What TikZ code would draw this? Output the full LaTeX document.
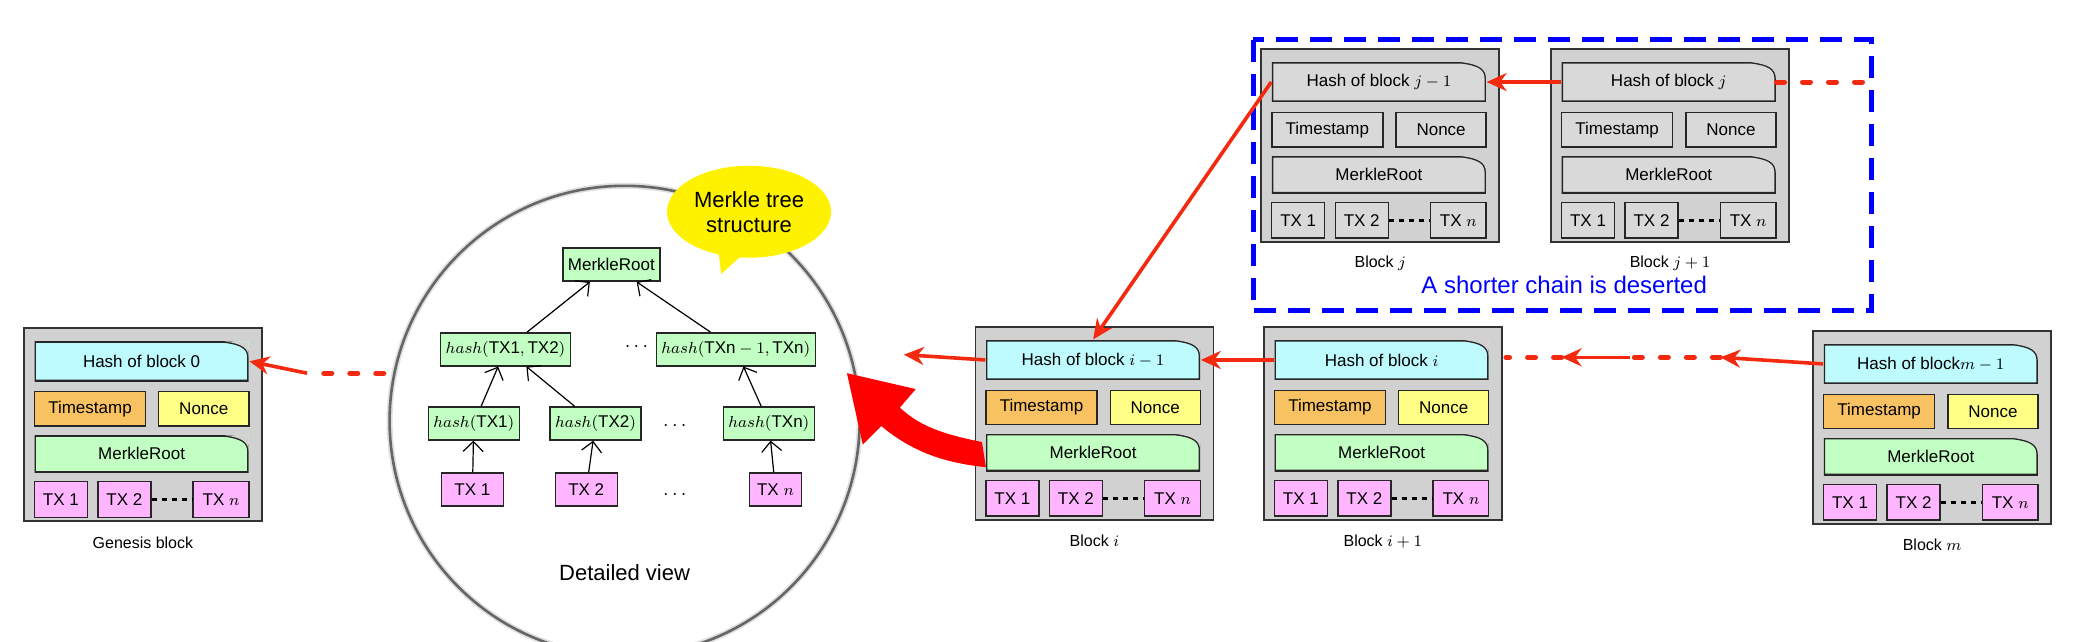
\documentclass[tikz,border=0pt]{standalone}
\usepackage{fontspec}
\setmainfont{Liberation Sans}
\usetikzlibrary{shapes.callouts,arrows.meta}

\definecolor{Ahash}{HTML}{BDFBFF}
\definecolor{Ats}{HTML}{F8C262}
\definecolor{Anonce}{HTML}{FFFF86}
\definecolor{Amr}{HTML}{C2FFC2}
\definecolor{Atx}{HTML}{FFB5FF}
\definecolor{Bhash}{HTML}{D9D9D9}
\definecolor{Bts}{HTML}{D9D9D9}
\definecolor{Bnonce}{HTML}{D9D9D9}
\definecolor{Bmr}{HTML}{D9D9D9}
\definecolor{Btx}{HTML}{D9D9D9}
\definecolor{chainred}{HTML}{F42A10}

% one block of the chain: name, x, y, hash text, colour set, label
\newcommand\chainblock[6]{
	\begin{scope}[shift={(#2,#3)}]
		\node[outer] (#1) at (90,73) {};
		\node[note,fill=#5hash] (#1-hash) at (89,25) {#4};
		\node[part,fill=#5ts,minimum width=55.5pt] (#1-ts) at (50,61) {Timestamp};
		\node[part,fill=#5nonce,minimum width=45pt] (#1-nonce) at (136,61) {Nonce};
		\node[note,fill=#5mr,minimum height=18.5pt] (#1-mr) at (89,95) {MerkleRoot};
		\node[part,fill=#5tx,minimum width=26.5pt,minimum height=17.8pt] (#1-tx1) at (28,129.5) {TX 1};
		\node[part,fill=#5tx,minimum width=26.5pt,minimum height=17.8pt] (#1-tx2) at (76,129.5) {TX 2};
		\node[part,fill=#5tx,minimum width=27.8pt,minimum height=17.8pt] (#1-txn) at (149,129.5) {TX $n$};
		\draw[line width=1.5pt,dash pattern=on 2.5pt off 2.5pt] (#1-tx2) -- (#1-txn);
		\node[blabel] (#1-label) at (90,162) {#6};
	\end{scope}
}

\begin{document}
\begin{tikzpicture}[x=0.6616pt,y=-0.6616pt,
		outer/.style={draw=black!80,fill=black!18,line width=0.9pt,minimum width=119pt,minimum height=96.5pt,inner sep=0pt},
		part/.style={draw=black!85,line width=0.7pt,minimum height=17.2pt,inner sep=0pt,font=\fontsize{8.5}{10}\selectfont},
		note/.style={part,draw=none,minimum width=107pt,minimum height=19.8pt,
			path picture={
				\draw[black!85,line width=1.4pt] (path picture bounding box.south east) -- (path picture bounding box.south west)
				-- (path picture bounding box.north west) -- ([xshift=-12pt]path picture bounding box.north east)
				.. controls ([xshift=-4pt,yshift=-1pt]path picture bounding box.north east) and ([yshift=-3pt]path picture bounding box.north east) .. ([yshift=-8pt]path picture bounding box.north east)
				-- (path picture bounding box.south east);
				\fill[black!18] ([xshift=-12pt]path picture bounding box.north east) .. controls ([xshift=-4pt,yshift=-1pt]path picture bounding box.north east) and ([yshift=-3pt]path picture bounding box.north east) .. ([yshift=-8pt]path picture bounding box.north east) -- (path picture bounding box.north east) -- cycle;
			}},
		tree/.style={draw=black!85,fill=Amr,line width=0.7pt,minimum height=16.5pt,inner sep=2.5pt,font=\fontsize{8.5}{10}\selectfont},
		blabel/.style={font=\fontsize{8}{10}\selectfont},
		link/.style={chainred,line width=1.8pt,-{Stealth[length=10pt,width=9pt]}},
		gap/.style={chainred,line width=2.5pt,dash pattern=on 4pt off 9pt,line cap=round},
		up/.style={-{Straight Barb[length=5pt]},line width=0.6pt},
	]
	\useasboundingbox (0,0) rectangle (1568,485);

	% the blocks of the main chain
	\chainblock{gen}{18}{248}{Hash of block 0}{A}{Genesis block}
	\chainblock{bi}{737}{247}{Hash of block $i-1$}{A}{Block $i$}
	\chainblock{bii}{955}{247}{Hash of block $i$}{A}{Block $i+1$}
	\chainblock{bm}{1370}{250}{Hash of block$m-1$}{A}{Block $m$}

	% the deserted branch
	\chainblock{bj}{953}{37}{Hash of block $j-1$}{B}{Block $j$}
	\chainblock{bjj}{1172}{37}{Hash of block $j$}{B}{Block $j+1$}
	\draw[blue,line width=2.5pt,dash pattern=on 11pt off 6pt] (947,30) rectangle (1414,235);
	\node[blue,font=\fontsize{12}{14}\selectfont] (desert) at (1182,215) {A shorter chain is deserted};

	% links between blocks
	\coordinate (gen-end) at (290,282);
	\coordinate (gen-mid) at (232,282);
	\draw[gap] (gen-end) -- (gen-mid);
	\draw[link] (gen-mid) -- (gen-hash.east);
	\coordinate (bi-tip) at (683,268);
	\draw[link] (bi-hash.west) -- (bi-tip);
	\draw[link] (bii-hash.west) -- (bi-hash.east);
	\coordinate (m-a) at (1300,270);
	\coordinate (m-b) at (1232,270);
	\coordinate (m-c) at (1180,270);
	\coordinate (m-d) at (1138,270);
	\draw[link] (bm-hash.west) -- (m-a);
	\draw[gap] (m-a) -- (m-b);
	\draw[link] (m-b) -- (m-c);
	\draw[gap] (m-c) -- (m-d);
	\draw[link] (bjj-hash.west) -- (bj-hash.east);
	\coordinate (j-end) at (1410,62);
	\draw[gap] (bjj-hash.east) -- (j-end);
	\draw[link] (bj-hash.west) -- (bi-hash.north);

	% detailed view of the merkle tree
	\node[circle,draw=black!12,line width=3pt,minimum size=235pt,inner sep=0pt] (view-shadow) at (472,318) {};
	\node[circle,draw=black!60,line width=1.3pt,minimum size=235pt,inner sep=0pt] (view) at (472,318) {};
	\node[font=\fontsize{11}{13}\selectfont] (view-label) at (472,433) {Detailed view};
	\node[tree] (root) at (462,200) {MerkleRoot};
	\node[tree] (h12) at (382,264) {$hash(\mathrm{TX1},\mathrm{TX2})$};
	\node[tree] (hn1) at (556,264) {$hash(\mathrm{TXn}-1,\mathrm{TXn})$};
	\node[tree] (h1) at (358,320) {$hash(\mathrm{TX1})$};
	\node[tree] (h2) at (450,320) {$hash(\mathrm{TX2})$};
	\node[tree] (hn) at (581,320) {$hash(\mathrm{TXn})$};
	\node[tree,fill=Atx,minimum width=31pt] (t1) at (357,370) {TX 1};
	\node[tree,fill=Atx,minimum width=31pt] (t2) at (443,370) {TX 2};
	\node[tree,fill=Atx,minimum width=26pt] (tn) at (586,370) {TX $n$};
	\node (dots1) at (481,262) {$\cdots$};
	\node (dots2) at (510,322) {$\cdots$};
	\node (dots3) at (510,374) {$\cdots$};
	\draw[up] (h12) -- (root);
	\draw[up] (hn1) -- (root);
	\draw[up] (h1) -- (h12);
	\draw[up] (h2) -- (h12);
	\draw[up] (hn) -- (hn1);
	\draw[up] (t1) -- (h1);
	\draw[up] (t2) -- (h2);
	\draw[up] (tn) -- (hn);

	% callout
	\node[ellipse callout,fill=yellow,minimum width=82pt,minimum height=46pt,inner sep=0pt,
		callout absolute pointer={(545,207)},align=center,font=\fontsize{11}{12.5}\selectfont] (note-tree) at (566,160) {Merkle tree\\structure};

	% big arrow from the block to the detailed view
	\fill[red] (742,334) .. controls (712,328) and (695,322) .. (680,308)
		-- (692,294) -- (640,282) -- (652,336) -- (666,322)
		.. controls (690,342) and (715,350) .. (745,353) -- cycle;
\end{tikzpicture}
\end{document}
